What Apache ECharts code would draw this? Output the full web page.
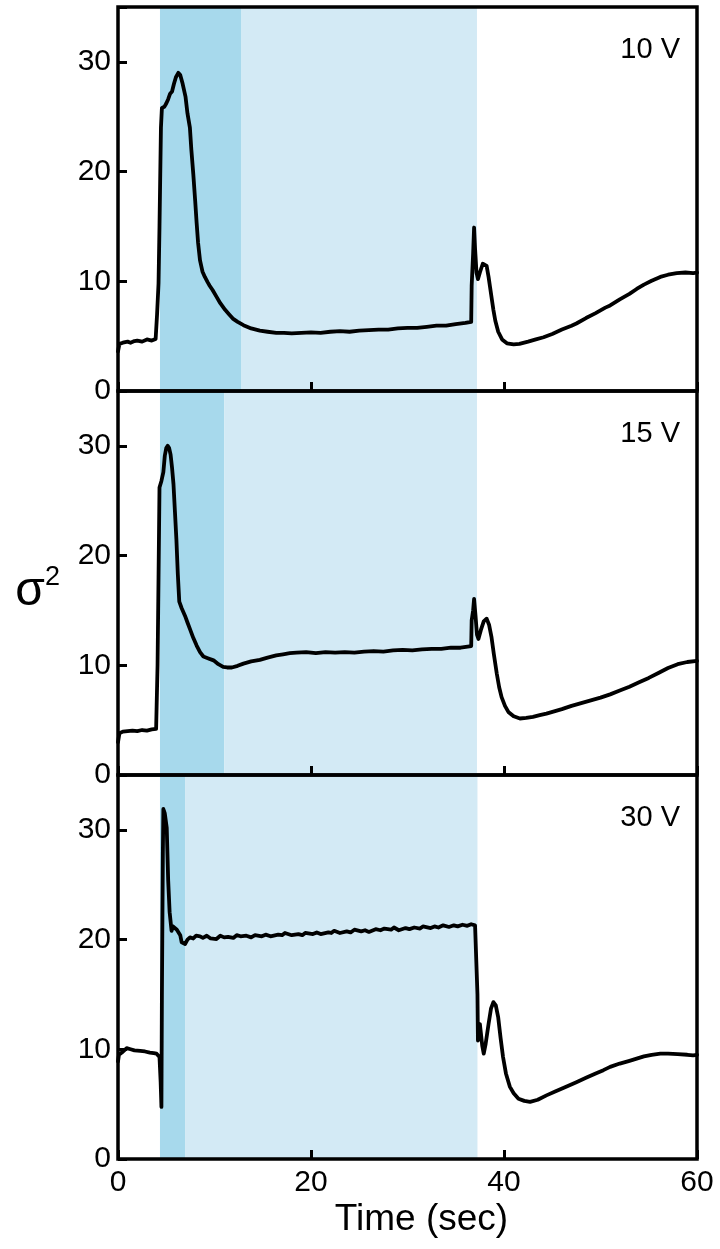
<!DOCTYPE html>
<html>
<head>
<meta charset="utf-8">
<script src="https://cdn.jsdelivr.net/npm/echarts@6/dist/echarts.min.js"></script>
<style>
  html, body { margin: 0; padding: 0; background: #fff; }
  #chart { width: 720px; height: 1249px; }
</style>
</head>
<body>
<div id="chart"></div>
<script>
// Axis ranges and tick steps
const timeRange = [0, 60];
const timeStep = 20;
const sigmaRange = [0, 35];
const sigmaStep = 10;

// Panel captions (applied voltage)
const panelLabels = ['10 V', '15 V', '30 V'];

// Stimulus windows (sec): strong phase [start, darkEnd], weak phase [darkEnd, end]
const pulseStart = [4.35, 4.35, 4.35];
const pulseDarkEnd = [12.8, 11.0, 6.95];
const pulseEnd = [37.2, 37.2, 37.25];

// Variance traces, [time (sec), sigma^2]
const trace10V = [
  [0, 3.6], [0.15, 4.3], [0.5, 4.4], [1, 4.5], [1.3, 4.4], [1.7, 4.55], [2, 4.6], [2.5, 4.5], [3, 4.7], [3.5, 4.6],
  [3.9, 4.75], [4.0, 4.8], [4.05, 7.0], [4.2, 9.8], [4.3, 15], [4.45, 24], [4.55, 25.8], [4.8, 25.9],
  [5.0, 26.2], [5.2, 26.6], [5.4, 27.1], [5.6, 27.3], [5.8, 28.0], [6.0, 28.6], [6.25, 29.0], [6.45, 28.8],
  [6.7, 28.0], [7.0, 26.8], [7.2, 25.3], [7.45, 24.0], [7.6, 22], [7.8, 19.8], [8.0, 17.3], [8.15, 15.3],
  [8.3, 13.5], [8.5, 11.9], [8.75, 10.9], [9.0, 10.4], [9.3, 9.9], [9.5, 9.6], [9.8, 9.2], [10.2, 8.6],
  [10.6, 8.0], [11.1, 7.4], [11.5, 7.0], [11.9, 6.6], [12.4, 6.3], [13.0, 6.0], [13.8, 5.7], [14.7, 5.5],
  [15.5, 5.4], [16.4, 5.3], [17.2, 5.3], [18, 5.25], [19, 5.3], [20, 5.35], [21, 5.3], [22, 5.4],
  [23, 5.45], [24, 5.4], [25, 5.5], [26, 5.55], [27, 5.6], [28, 5.6], [29, 5.7], [30, 5.75], [31, 5.75],
  [32, 5.85], [33, 5.95], [34, 5.95], [35, 6.1], [36, 6.2], [36.6, 6.3], [36.65, 9.6], [36.8, 12.5],
  [36.9, 14.9], [37.0, 13], [37.15, 10.8], [37.3, 10.2], [37.5, 10.8], [37.8, 11.6], [38.0, 11.75],
  [38.2, 11.4], [38.4, 10.4], [38.55, 9.5], [38.75, 8.3], [38.9, 7.4], [39.1, 6.4], [39.4, 5.4],
  [39.8, 4.7], [40.3, 4.35], [41.0, 4.25], [41.6, 4.3], [42.5, 4.5], [43.3, 4.7], [44.1, 4.9], [45, 5.2],
  [46, 5.6], [47, 5.95], [47.5, 6.15], [48.5, 6.65], [49.5, 7.1], [50.5, 7.6], [51, 7.8], [52, 8.35],
  [53, 8.85], [53.75, 9.3], [54.5, 9.7], [55.3, 10.05], [56.2, 10.4], [57, 10.6], [57.9, 10.75],
  [58.8, 10.8], [59.6, 10.75], [60, 10.8]
];

const trace15V = [
  [0, 3.0], [0.15, 3.8], [0.5, 3.95], [1, 4.0], [1.5, 4.05], [2, 4.0], [2.5, 4.1], [3, 4.05], [3.5, 4.15],
  [3.95, 4.2], [4.0, 4.3], [4.1, 10], [4.2, 18], [4.3, 26.2], [4.5, 26.8], [4.7, 27.6], [4.85, 29.1],
  [5.0, 29.8], [5.15, 30.0], [5.3, 29.8], [5.45, 29.2], [5.6, 28.0], [5.75, 26.5], [5.9, 24.0], [6.05, 21.5],
  [6.2, 18.3], [6.35, 15.8], [6.6, 15.2], [6.95, 14.5], [7.2, 13.9], [7.46, 13.3], [7.8, 12.5], [8.15, 11.8],
  [8.5, 11.2], [8.85, 10.8], [9.3, 10.65], [9.9, 10.45], [10.4, 10.1], [10.9, 9.85], [11.3, 9.8], [11.8, 9.8],
  [12.4, 9.95], [13.0, 10.15], [13.8, 10.35], [14.7, 10.5], [15.5, 10.7], [16.4, 10.9], [17.1, 11.0],
  [17.8, 11.1], [18.5, 11.15], [19.5, 11.2], [20.5, 11.1], [21.5, 11.2], [22.5, 11.15], [23.5, 11.2],
  [24.5, 11.15], [25.5, 11.25], [26.5, 11.3], [27.5, 11.25], [28.5, 11.35], [29.5, 11.4], [30.5, 11.35],
  [31.5, 11.45], [32.5, 11.5], [33.5, 11.5], [34.5, 11.6], [35.5, 11.6], [36.6, 11.75], [36.65, 14.1],
  [36.8, 15], [36.9, 16.05], [37.05, 14.5], [37.2, 12.8], [37.35, 12.4], [37.6, 13.2], [37.9, 14.0],
  [38.2, 14.25], [38.45, 13.7], [38.7, 12.6], [38.95, 11.0], [39.25, 9.25], [39.5, 8.0], [39.75, 7.1],
  [40.1, 6.3], [40.45, 5.75], [41.0, 5.35], [41.65, 5.15], [42.3, 5.2], [43.0, 5.3], [43.7, 5.45],
  [44.4, 5.6], [45.2, 5.8], [46, 6.0], [47, 6.3], [48, 6.55], [49, 6.8], [50, 7.05], [51, 7.35], [52, 7.7],
  [53, 8.05], [54, 8.45], [55, 8.85], [56, 9.3], [57, 9.75], [58, 10.1], [59, 10.3], [60, 10.4]
];

const trace30V = [
  [0, 8.9], [0.1, 9.5], [0.4, 9.7], [0.9, 10.1], [1.3, 10.0], [1.7, 9.9], [2.3, 9.85], [2.8, 9.8],
  [3.3, 9.7], [3.7, 9.65], [4.0, 9.6], [4.3, 9.3], [4.42, 7], [4.5, 4.75], [4.55, 15], [4.65, 28],
  [4.7, 31.9], [4.85, 31.5], [5.05, 30.2], [5.2, 25.4], [5.35, 22.5], [5.55, 20.8], [5.7, 21.2], [5.9, 21.1],
  [6.1, 20.9], [6.25, 21.0], [6.45, 20.4], [6.6, 19.75], [6.95, 19.6], [7.2, 20.0], [7.46, 20.2], [7.8, 20.1],
  [8.1, 20.35], [8.5, 20.3], [8.8, 20.15], [9.2, 20.35], [9.6, 20.1], [10.2, 20.05], [10.6, 20.35], [11.0, 20.2],
  [11.4, 20.25], [11.95, 20.15], [12.3, 20.4], [12.7, 20.3], [13.3, 20.35], [13.8, 20.2], [14.2, 20.4],
  [14.9, 20.3], [15.3, 20.45], [15.8, 20.3], [16.6, 20.45], [17, 20.4], [17.3, 20.6], [18, 20.4],
  [18.7, 20.5], [19.1, 20.4], [19.4, 20.6], [20.2, 20.5], [20.6, 20.65], [21, 20.5], [21.8, 20.65],
  [22.1, 20.6], [22.4, 20.8], [23, 20.6], [23.7, 20.75], [24.1, 20.65], [24.5, 20.9], [25.2, 20.75],
  [25.6, 20.85], [26, 20.7], [26.7, 20.95], [27.2, 20.85], [27.6, 21.0], [28.3, 20.9], [28.6, 21.1],
  [29.1, 20.85], [29.8, 21.05], [30.2, 20.95], [30.7, 21.1], [31.3, 21.0], [31.6, 21.2], [32.4, 21.05],
  [32.8, 21.2], [33.2, 21.1], [33.7, 21.3], [34.3, 21.15], [34.8, 21.3], [35.2, 21.2], [35.7, 21.35],
  [36.2, 21.25], [36.6, 21.4], [37.0, 21.3], [37.2, 21.4], [37.25, 15], [37.3, 10.8], [37.4, 11.4],
  [37.5, 12.3], [37.6, 11.5], [37.75, 10.3], [37.9, 9.6], [38.1, 10.5], [38.4, 12.3], [38.65, 13.7],
  [38.9, 14.3], [39.15, 14.0], [39.4, 12.9], [39.65, 11.0], [39.9, 9.3], [40.2, 7.8], [40.6, 6.6],
  [41.0, 6.0], [41.5, 5.5], [42.1, 5.3], [42.7, 5.2], [43.5, 5.4], [44.4, 5.8], [45.3, 6.15], [46.2, 6.5],
  [47.5, 7.0], [48.5, 7.4], [49.5, 7.8], [50.3, 8.1], [51, 8.4], [52, 8.7], [53, 8.95], [53.75, 9.15],
  [54.5, 9.35], [55.3, 9.5], [56.2, 9.6], [57, 9.6], [58, 9.55], [59, 9.5], [59.6, 9.45], [60, 9.5]
];

const traces = [trace10V, trace15V, trace30V];

// Layout of the three stacked panels
const panelTops = [7, 391, 775];
const panelHeight = 384;
const fontFamily = '"Liberation Sans", Arial, Helvetica, sans-serif';
const tickFont = 30;
const darkShade = '#a7d9ec';
const lightShade = '#d3eaf5';

const chart = echarts.init(document.getElementById('chart'), null, { renderer: 'canvas' });

const grids = panelTops.map(top => ({
  left: 118, width: 579, top: top, height: panelHeight,
  show: true, borderColor: '#000', borderWidth: 3.5, backgroundColor: 'transparent', z: 5
}));

const xAxes = panelTops.map((_, i) => ({
  type: 'value', gridIndex: i, min: timeRange[0], max: timeRange[1], interval: timeStep,
  z: 6,
  axisLine: { show: false },
  axisTick: { show: true, inside: true, length: 9, lineStyle: { color: '#000', width: 3 } },
  axisLabel: {
    show: i === 2, margin: 9, color: '#000', fontSize: tickFont, fontFamily: fontFamily
  },
  splitLine: { show: false },
  name: i === 2 ? 'Time (sec)' : '',
  nameLocation: 'middle', nameGap: 42,
  nameTextStyle: { color: '#000', fontSize: 37, fontFamily: fontFamily, padding: [0, 0, 0, 28] }
}));

const yAxes = panelTops.map((_, i) => ({
  type: 'value', gridIndex: i, min: sigmaRange[0], max: sigmaRange[1], interval: sigmaStep,
  z: 6,
  axisLine: { show: false },
  axisTick: { show: true, inside: true, length: 9, lineStyle: { color: '#000', width: 3 } },
  axisLabel: {
    margin: 7, color: '#000', fontSize: tickFont, fontFamily: fontFamily,
    formatter: v => (v % sigmaStep === 0 ? String(v) : '')
  },
  splitLine: { show: false },
  name: i === 1 ? '{s|σ}{p|2}' : '',
  nameLocation: 'middle', nameRotate: 0, nameGap: 58,
  nameTextStyle: {
    padding: [14, 0, 0, 0],
    rich: {
      s: { fontSize: 48, fontFamily: fontFamily, color: '#000', verticalAlign: 'bottom', lineHeight: 52 },
      p: { fontSize: 27, fontFamily: fontFamily, color: '#000', verticalAlign: 'top', lineHeight: 52 }
    }
  }
}));

const series = traces.map((trace, i) => ({
  type: 'line', xAxisIndex: i, yAxisIndex: i,
  data: trace, showSymbol: false, symbol: 'none', smooth: false,
  lineStyle: { color: '#000', width: 3.8, join: 'round', cap: 'round' },
  z: 3,
  markArea: {
    silent: true,
    data: [
      [{ xAxis: pulseStart[i], itemStyle: { color: darkShade, opacity: 1 } }, { xAxis: pulseDarkEnd[i] }],
      [{ xAxis: pulseDarkEnd[i], itemStyle: { color: lightShade, opacity: 1 } }, { xAxis: pulseEnd[i] }]
    ]
  }
}));

const titles = panelLabels.map((label, i) => ({
  text: label, right: 35, top: panelTops[i] + 23,
  textStyle: { color: '#000', fontSize: 29, fontWeight: 'normal', fontFamily: fontFamily }
}));

chart.setOption({
  animation: false,
  backgroundColor: '#fff',
  title: titles,
  grid: grids,
  xAxis: xAxes,
  yAxis: yAxes,
  series: series
});
</script>
</body>
</html>
